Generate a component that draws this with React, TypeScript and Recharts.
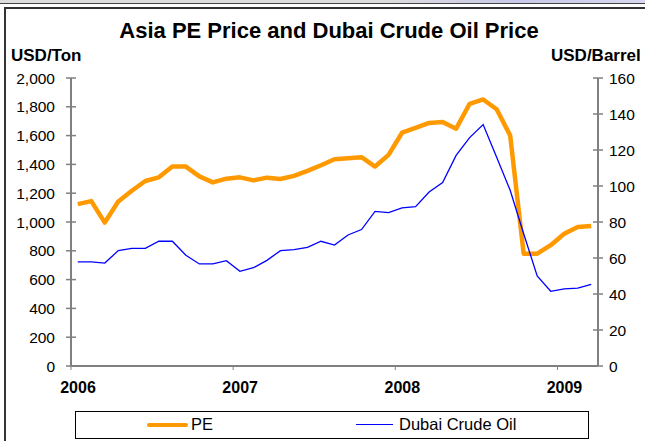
import { LineChart, Line, XAxis, YAxis } from 'recharts'

const months = [
  'Jan 06', 'Feb 06', 'Mar 06', 'Apr 06', 'May 06', 'Jun 06', 'Jul 06', 'Aug 06', 'Sep 06', 'Oct 06', 'Nov 06', 'Dec 06',
  'Jan 07', 'Feb 07', 'Mar 07', 'Apr 07', 'May 07', 'Jun 07', 'Jul 07', 'Aug 07', 'Sep 07', 'Oct 07', 'Nov 07', 'Dec 07',
  'Jan 08', 'Feb 08', 'Mar 08', 'Apr 08', 'May 08', 'Jun 08', 'Jul 08', 'Aug 08', 'Sep 08', 'Oct 08', 'Nov 08', 'Dec 08',
  'Jan 09', 'Feb 09', 'Mar 09',
]

const pePrice = [
  1124, 1145, 996, 1143, 1217, 1285, 1310, 1385, 1385, 1317, 1275, 1301,
  1310, 1289, 1308, 1299, 1320, 1355, 1394, 1436, 1443, 1450, 1385, 1466,
  1620, 1653, 1688, 1695, 1648, 1821, 1851, 1783, 1601, 780, 780, 839,
  919, 965, 972,
]

const dubaiCrude = [
  57.8, 57.8, 57.2, 64.1, 65.4, 65.4, 69.3, 69.3, 61.5, 56.7, 56.7, 58.5,
  52.6, 54.6, 58.7, 64.1, 64.7, 65.9, 69.3, 67.2, 72.8, 75.8, 85.9, 85.2,
  87.8, 88.5, 96.7, 101.9, 117, 126.9, 134.1, 116, 97.6, 73.5, 50, 41.5,
  42.8, 43.3, 45.4,
]

const years = [2006, 2007, 2008, 2009]
const leftTicks = [0, 200, 400, 600, 800, 1000, 1200, 1400, 1600, 1800, 2000]
const rightTicks = [0, 20, 40, 60, 80, 100, 120, 140, 160]

// month slots: each point sits in the middle of its month
const data = months.map((m, i) => ({ month: m, x: i + 0.5, PE: pePrice[i], Dubai: dubaiCrude[i] }))
const yearTicks = years.map(y => (y - years[0]) * 12)

const AXIS = '#808080'
const FONT = '"Liberation Sans", Arial, sans-serif'

const LeftTick = ({ x, y, payload }: any) => (
  <g>
    <line x1={x - 5} x2={x + 5} y1={y} y2={y} stroke={AXIS} strokeWidth={1.5} />
    <text x={x - 16} y={y} textAnchor="end" dominantBaseline="central" fontSize={15.5} fill="#000" fontFamily={FONT}>
      {payload.value.toLocaleString('en-US')}
    </text>
  </g>
)

const RightTick = ({ x, y, payload }: any) => (
  <g>
    <line x1={x - 5} x2={x + 5} y1={y} y2={y} stroke={AXIS} strokeWidth={1.5} />
    <text x={x + 11} y={y} textAnchor="start" dominantBaseline="central" fontSize={15.5} fill="#000" fontFamily={FONT}>
      {payload.value}
    </text>
  </g>
)

export default function App() {
  return (
    <div style={{ position: 'absolute', left: 0, top: 0, width: 645, height: 441, background: '#fff', fontFamily: FONT, overflow: 'hidden' }}>
      {/* frame */}
      <div style={{ position: 'absolute', left: 0, top: 0, width: 645, height: 3, background: 'linear-gradient(90deg, #ddd 0%, #ddd 60%, #c8c8e8 80%, #d8d8f0 100%)', borderBottom: '1px solid #444' }} />
      <div style={{ position: 'absolute', left: 4, top: 7, width: 660, height: 460, borderLeft: '2px solid #333', borderTop: '2px solid #333' }} />

      <div style={{ position: 'absolute', left: 0, width: 658, top: 20, textAlign: 'center', fontSize: 22, lineHeight: '22px', fontWeight: 'bold' }}>
        Asia PE Price and Dubai Crude Oil Price
      </div>
      <div style={{ position: 'absolute', left: 11, top: 47, fontSize: 17, lineHeight: '17px', fontWeight: 'bold' }}>USD/Ton</div>
      <div style={{ position: 'absolute', left: 551, top: 47, fontSize: 17, lineHeight: '17px', fontWeight: 'bold', whiteSpace: 'nowrap' }}>USD/Barrel</div>

      <div style={{ position: 'absolute', left: 0, top: 0 }}>
        <LineChart width={645} height={441} data={data} margin={{ top: 78, right: 0, bottom: 45, left: 0 }}>
          <XAxis
            dataKey="x"
            type="number"
            domain={[0, months.length]}
            ticks={yearTicks}
            tickFormatter={v => String(years[0] + v / 12)}
            height={30}
            stroke={AXIS}
            axisLine={{ stroke: AXIS, strokeWidth: 2 }}
            tickLine={{ stroke: AXIS }}
            tickSize={4}
            tickMargin={12}
            tick={{ fill: '#000', fontSize: 16, fontWeight: 'bold', fontFamily: FONT, dx: 7 }}
            interval={0}
          />
          <YAxis
            yAxisId="left"
            domain={[0, 2000]}
            ticks={leftTicks}
            width={71}
            axisLine={{ stroke: AXIS, strokeWidth: 2 }}
            tickLine={false}
            tickSize={0}
            tickMargin={0}
            tick={<LeftTick />}
            interval={0}
          />
          <YAxis
            yAxisId="right"
            orientation="right"
            domain={[0, 160]}
            ticks={rightTicks}
            width={47}
            axisLine={{ stroke: AXIS, strokeWidth: 2 }}
            tickLine={false}
            tickSize={0}
            tickMargin={0}
            tick={<RightTick />}
            interval={0}
          />
          <Line yAxisId="left" type="linear" dataKey="PE" stroke="#FF9900" strokeWidth={4.5} dot={false} isAnimationActive={false} strokeLinejoin="round" />
          <Line yAxisId="right" type="linear" dataKey="Dubai" stroke="#0000FF" strokeWidth={1.3} dot={false} isAnimationActive={false} />
        </LineChart>
      </div>

      {/* legend */}
      <div style={{ position: 'absolute', left: 75, top: 411, width: 512, height: 26, border: '1px solid #000', fontSize: 16.5 }}>
        <div style={{ position: 'absolute', left: 71, top: 11, width: 41, height: 4, background: '#FF9900', borderRadius: 2 }} />
        <div style={{ position: 'absolute', left: 115, top: 4, lineHeight: '16px' }}>PE</div>
        <div style={{ position: 'absolute', left: 280, top: 12, width: 37, height: 1.3, background: '#0000FF' }} />
        <div style={{ position: 'absolute', left: 323, top: 4, lineHeight: '16px' }}>Dubai Crude Oil</div>
      </div>
    </div>
  )
}
